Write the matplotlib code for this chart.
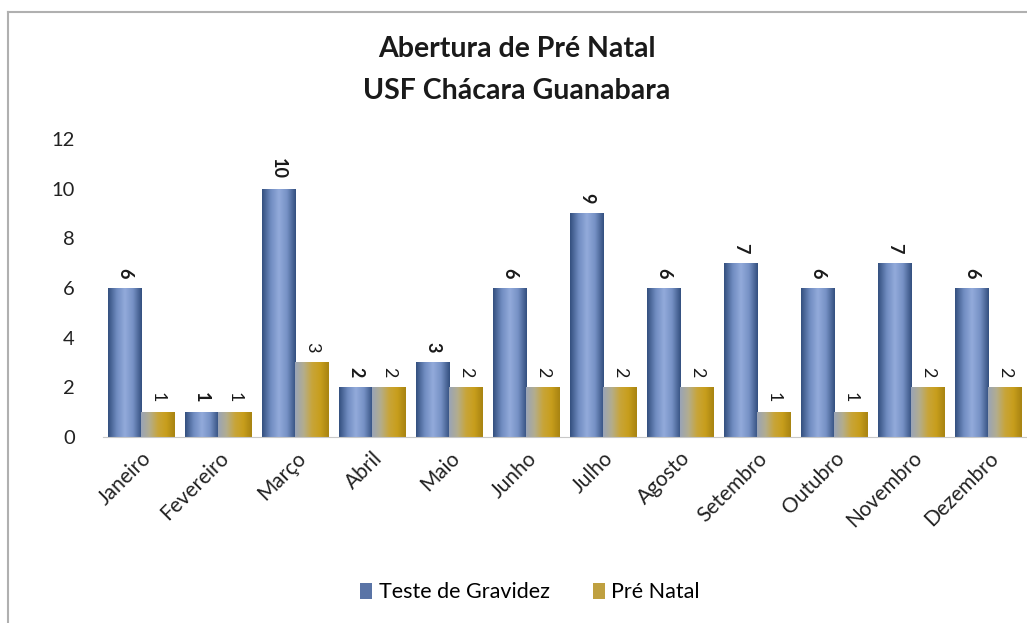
import matplotlib as mpl
import matplotlib.pyplot as plt
import numpy
from matplotlib.colors import LinearSegmentedColormap
from matplotlib.patches import Patch
from matplotlib.lines import Line2D

months = ['Janeiro', 'Fevereiro', 'Março', 'Abril', 'Maio', 'Junho',
          'Julho', 'Agosto', 'Setembro', 'Outubro', 'Novembro', 'Dezembro']
teste_gravidez = [6, 1, 10, 2, 3, 6, 9, 6, 7, 6, 7, 6]
pre_natal = [1, 1, 3, 2, 2, 2, 2, 2, 1, 1, 2, 2]
yticks = [0, 2, 4, 6, 8, 10, 12]

plt.rcParams['font.family'] = ['Lato', 'DejaVu Sans']

blue_cmap = LinearSegmentedColormap.from_list(
  'blue', ['#34507f', '#6f8bc0', '#93abdb', '#7590c4', '#34507f'])
gold_cmap = LinearSegmentedColormap.from_list(
  'gold', ['#9aa4b6', '#b3ad8e', '#c8a53a', '#c89e1c', '#a88412'])

fig = plt.figure(figsize=(10.27, 6.23), dpi=100)
ax = fig.add_axes([0.100, 0.2986, 0.900, 0.4783])

x = numpy.arange(len(months))
w = 0.43
grad = numpy.linspace(0, 1, 64).reshape(1, -1)

def gradient_bars(xs, vals, cmap, bold):
  bars = ax.bar(xs, vals, w, color='none', edgecolor='none', zorder=2)
  for bar, v in zip(bars, vals):
    x0 = bar.get_x()
    im = ax.imshow(grad, extent=[x0, x0 + bar.get_width(), 0, v], aspect='auto',
                   cmap=cmap, zorder=2, interpolation='bicubic')
    im.set_clip_path(bar)
    ax.annotate(str(v), (bar.get_x() + bar.get_width() / 2, v), xytext=(0, 7),
                textcoords='offset points', ha='center', va='bottom', rotation=-90,
                fontsize=13, fontweight='bold' if bold else 'normal', color='#1a1a1a')
  return bars

gradient_bars(x - w / 2, teste_gravidez, blue_cmap, True)
gradient_bars(x + w / 2, pre_natal, gold_cmap, False)

ax.set_xlim(-0.5, len(months) - 0.5)
ax.set_ylim(0, 12)
ax.set_yticks(yticks)
ax.set_xticks(x)
ax.set_xticklabels(months, rotation=45, ha='right', rotation_mode='anchor', fontsize=15)
ax.tick_params(axis='y', length=0, labelsize=14.5, colors='#222222', pad=20)
ax.tick_params(axis='x', length=0, colors='#222222', pad=8)
for s in ['top', 'right', 'left']:
  ax.spines[s].set_visible(False)
ax.spines['bottom'].set_color('#c8c8c8')

fig.text(0.503, 0.921, 'Abertura de Pré Natal', ha='center', va='center',
         fontsize=20.5, fontweight='bold', color='#1a1a1a')
fig.text(0.503, 0.854, 'USF Chácara Guanabara', ha='center', va='center',
         fontsize=20.5, fontweight='bold', color='#1a1a1a')

handles = [Patch(facecolor='#5a74a6', edgecolor='none'),
           Patch(facecolor='#bfa040', edgecolor='none')]
fig.legend(handles, ['Teste de Gravidez', 'Pré Natal'], loc='center',
           bbox_to_anchor=(0.516, 0.049), ncol=2, frameon=False, fontsize=15.5,
           handlelength=0.55, handleheight=0.8, handletextpad=0.3, columnspacing=2.0)

# chart frame
fig.add_artist(Line2D([0.008, 1.0], [0.981, 0.981], color='#b0b0b0', lw=1.5))
fig.add_artist(Line2D([0.008, 0.008], [0.0, 0.981], color='#b0b0b0', lw=1.5))

fig.savefig('out.png', dpi=100)
